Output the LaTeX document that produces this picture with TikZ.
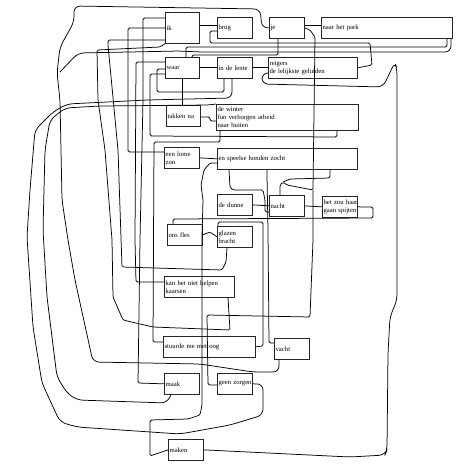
\documentclass[tikz,border=0pt]{standalone}
\usepackage{fontspec}
\setmainfont{Liberation Serif}
\begin{document}
\begin{tikzpicture}[x=1pt,y=-1pt,
  box/.style={draw=black!85, line width=0.7pt, anchor=north west, align=left,
    inner xsep=1pt, inner ysep=0pt, font=\fontsize{6.7}{8}\selectfont},
  ln/.style={line width=0.75pt, rounded corners=1.5pt},
  big/.style={line width=0.75pt, rounded corners=6pt}]
\useasboundingbox (0,0) rectangle (475,469);
% boxes
\node[box,minimum width=34pt,minimum height=31pt,text width=31.5pt] (ik) at (165,12) {ik};
\node[box,minimum width=35pt,minimum height=21pt,text width=32.5pt] (brug) at (217,17) {brug};
\node[box,minimum width=35pt,minimum height=21pt,text width=32.5pt] (je) at (269,17) {je};
\node[box,minimum width=131pt,minimum height=21pt,text width=128.5pt] (park) at (321,17) {\mbox{naar het park}};
\node[box,minimum width=34pt,minimum height=21pt,text width=31.5pt] (waar) at (165,57) {waar};
\node[box,minimum width=35pt,minimum height=21pt,text width=32.5pt] (lente) at (217,57) {\mbox{in de lente}};
\node[box,minimum width=89pt,minimum height=21pt,text width=86.5pt] (reigers) at (268,57) {\mbox{reigers}\\\mbox{de lelijkste geluiden}};
\node[box,minimum width=34pt,minimum height=21pt,text width=31.5pt] (takken) at (166,105) {\mbox{takken na}};
\node[box,minimum width=142pt,minimum height=26pt,text width=139.5pt] (winter) at (216,104) {\mbox{de winter}\\\mbox{fun verborgen arbeid}\\\mbox{naar buiten}};
\node[box,minimum width=35pt,minimum height=21pt,text width=32.5pt] (lome) at (164,147) {\mbox{een lome}\\\mbox{zon}};
\node[box,minimum width=140pt,minimum height=21pt,text width=137.5pt] (speelse) at (217,148) {\mbox{en speelse honden zocht}};
\node[box,minimum width=35pt,minimum height=21pt,text width=32.5pt] (dunne) at (217,194) {\mbox{de dunne}};
\node[box,minimum width=35pt,minimum height=21pt,text width=32.5pt] (nacht) at (269,195) {nacht};
\node[box,minimum width=35pt,minimum height=21pt,text width=32.5pt] (spijten) at (322,196) {\mbox{het zou haar}\\\mbox{gaan spijten}};
\node[box,minimum width=35pt,minimum height=21pt,text width=32.5pt] (fles) at (167,224) {\mbox{ons fles}};
\node[box,minimum width=35pt,minimum height=21pt,text width=32.5pt] (glazen) at (217,226) {\mbox{glazen}\\\mbox{bracht}};
\node[box,minimum width=70pt,minimum height=21pt,text width=67.5pt] (kan) at (164,276) {\mbox{kan het niet helpen}\\\mbox{kaarsen}};
\node[box,minimum width=92pt,minimum height=21pt,text width=89.5pt] (stuurde) at (163,336) {\mbox{stuurde me met oog}};
\node[box,minimum width=35pt,minimum height=21pt,text width=32.5pt] (vacht) at (274,338) {vacht};
\node[box,minimum width=35pt,minimum height=21pt,text width=32.5pt] (maak) at (164,373) {maak};
\node[box,minimum width=35pt,minimum height=21pt,text width=32.5pt] (zorgen) at (217,373) {\mbox{geen zorgen}};
\node[box,minimum width=35pt,minimum height=21pt,text width=32.5pt] (maken) at (168,439) {maken};
\coordinate (j1) at (313,190);
\coordinate (j2) at (60,72);
\coordinate (j3) at (283,182);
% connectors
\draw[big] (je.west) -- (262,28) -- (260,9) -- (74,6) -- (74,22) -- (60,47) -- (57,73) -- (60,100) -- (62,200) -- (68,240) -- (75,280) -- (93,362) -- (200,364) -- (253,372) -- (279,372) -- (279,0 |- vacht.south);
\draw[big] (zorgen.east) -- (263,384) -- (263,415) -- (230,425) -- (180,434) -- (77,427) -- (60,422) -- (42,383) -- (33,327) -- (27,237) -- (30,190) -- (35,130) -- (53,112) -- (67,104) -- (147,100) -- (232,98) -- (232,0 |- lente.south);
\draw[big] (171,0 |- maak.south) -- (167,403) -- (77,400) -- (67,393) -- (57,377) -- (47,297) -- (43,230) -- (45,150) -- (50,120) -- (65,108) -- (100,106) -- (210,105) -- (winter.north west);
\draw[ln] (228,0 |- kan.south) -- (230,330) -- (153,327) -- (123,320) -- (113,297) -- (112,240) -- (105,150) -- (98,100) -- (97,50) -- (160,47) -- (ik.south west);
\draw[ln] (227,0 |- glazen.south) -- (226,262) -- (222,270) -- (122,267) -- (118,150) -- (108,45) -- (108,40) -- (ik.west |- 0,40);
\draw[ln] (lome.west |- 0,152) -- (128,152) -- (128,28) -- (ik.west |- 0,28);
\draw[ln] (maak.west) -- (138,383) -- (140,240) -- (143,100) -- (143,18) -- (ik.west |- 0,18);
\draw[ln] (kan.west |- 0,282) -- (136,282) -- (135,240) -- (136,62) -- (waar.west |- 0,62);
\draw[ln] (stuurde.west |- 0,342) -- (153,342) -- (154,142) -- (220,142) -- (220,0 |- winter.south);
\draw[ln] (337,0 |- winter.south) -- (337,137) -- (150,136) -- (150,74) -- (waar.west |- 0,74);
\draw[ln] (waar.west |- 0,69) -- (157,69) -- (157,92) -- (224,92) -- (224,0 |- lente.south);
\draw[ln] (stuurde.east) -- (263,346) -- (263,222) -- (218,222) -- (218,0 |- glazen.north);
\draw[ln] (vacht.west |- 0,343) -- (269,343) -- (268,230) -- (267,175) -- (267,0 |- speelse.south);
\draw[ln] (je.east) -- (310,30) -- (315,37) -- (j1) -- (287,185) -- (j3) -- (280,185) -- (280,0 |- nacht.north);
\draw[ln] (j1) -- (313,240) -- (310,317) -- (207,315) -- (208,385) -- (zorgen.west |- 0,385);
\draw[ln] (maken.west) -- (150,456) -- (150,420) -- (188,419) -- (200,415) -- (202,405) -- (202,237) -- (203,200) -- (201,185) -- (204,170) -- (210,163) -- (speelse.west |- 0,163);
\draw[ln] (fles.east) -- (210,232) -- (glazen.west);
\draw[ln] (173,0 |- fles.north) -- (173,219) -- (373,218) -- (373,207) -- (spijten.east);
\draw[ln] (dunne.east) -- (nacht.west);
\draw[ln] (nacht.east) -- (spijten.west);
\draw[ln] (lome.east) -- (speelse.west);
\draw[ln] (takken.east |- 0,117) -- (210,117) -- (210,121) -- (winter.west |- 0,121);
\draw[ln] (182,0 |- waar.south) -- (182,0 |- takken.north);
\draw[ln] (ik.east |- 0,25) -- (brug.west |- 0,25);
\draw[ln] (je.east |- 0,25) -- (park.west |- 0,25);
\draw[ln] (waar.east) -- (lente.west);
\draw[ln] (lente.east) -- (reigers.west);
\draw[ln] (reigers.east) -- (372,65) -- (370,43) -- (210,43) -- (210,31) -- (brug.west |- 0,31);
\draw[ln] (447,0 |- park.south) -- (447,47) -- (186,47) -- (186,0 |- waar.north);
\draw[big] (451,0 |- park.south) -- (451,52) -- (200,52) -- (180,51) -- (78,53) -- (j2);
\draw[ln] (278,0 |- je.south) -- (278,55) -- (192,55) -- (192,0 |- waar.north);
\draw[big] (reigers.west |- 0,73) -- (262,73) -- (262,84) -- (383,87) -- (395,62) -- (397,70) -- (397,300) -- (390,317) -- (388,353) -- (387,450) -- (385,455) -- (350,457) -- (maken.east);
\draw[ln] (229,0 |- speelse.south) -- (230,187) -- (233,190) -- (263,190) -- (265,200) -- (265,212) -- (nacht.west |- 0,212);
\draw[ln] (330,0 |- speelse.south) -- (330,178) -- (290,179) -- (j3);
\end{tikzpicture}
\end{document}
